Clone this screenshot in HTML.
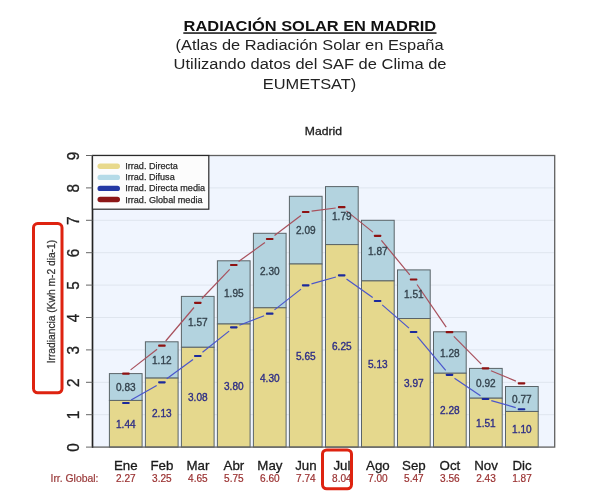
<!DOCTYPE html>
<html lang="es"><head><meta charset="utf-8"><title>Radiación solar en Madrid</title>
<style>html,body{margin:0;padding:0;background:#fff}svg{display:block}text{font-family:'Liberation Sans', Arial, sans-serif}</style>
</head><body>
<svg width="600" height="502" viewBox="0 0 600 502">
<rect width="600" height="502" fill="#fff"/>
<text x="183.6" y="30.8" font-size="14.67" fill="#111" font-weight="bold" textLength="252.6" lengthAdjust="spacingAndGlyphs">RADIACIÓN SOLAR EN MADRID</text>
<rect x="183.3" y="32.3" width="253.2" height="1.5" fill="#111"/>
<text x="175.5" y="50.2" font-size="14.67" fill="#222" textLength="268" lengthAdjust="spacingAndGlyphs">(Atlas de Radiación Solar en España</text>
<text x="173.6" y="69.2" font-size="14.67" fill="#222" textLength="272.9" lengthAdjust="spacingAndGlyphs">Utilizando datos del SAF de Clima de</text>
<text x="262.8" y="88.6" font-size="14.67" fill="#222" textLength="93.5" lengthAdjust="spacingAndGlyphs">EUMETSAT)</text>
<text x="304.8" y="134.8" font-size="11" fill="#222" textLength="37.2" lengthAdjust="spacingAndGlyphs" stroke="#222" stroke-width="0.3">Madrid</text>
<rect x="92.5" y="155.5" width="462.20000000000005" height="291.6" fill="#f0f5fe"/>
<line x1="92.5" x2="554.7" y1="414.7" y2="414.7" stroke="#dfe5ee" stroke-width="1"/>
<line x1="92.5" x2="554.7" y1="382.3" y2="382.3" stroke="#dfe5ee" stroke-width="1"/>
<line x1="92.5" x2="554.7" y1="349.9" y2="349.9" stroke="#dfe5ee" stroke-width="1"/>
<line x1="92.5" x2="554.7" y1="317.5" y2="317.5" stroke="#dfe5ee" stroke-width="1"/>
<line x1="92.5" x2="554.7" y1="285.1" y2="285.1" stroke="#dfe5ee" stroke-width="1"/>
<line x1="92.5" x2="554.7" y1="252.7" y2="252.7" stroke="#dfe5ee" stroke-width="1"/>
<line x1="92.5" x2="554.7" y1="220.3" y2="220.3" stroke="#dfe5ee" stroke-width="1"/>
<line x1="92.5" x2="554.7" y1="187.9" y2="187.9" stroke="#dfe5ee" stroke-width="1"/>
<rect x="109.4" y="373.6" width="32.7" height="26.9" fill="#b3d3df" stroke="#5a6468" stroke-width="1"/>
<rect x="109.4" y="400.4" width="32.7" height="46.7" fill="#e5d88d" stroke="#5a6468" stroke-width="1"/>
<rect x="145.4" y="341.8" width="32.7" height="36.3" fill="#b3d3df" stroke="#5a6468" stroke-width="1"/>
<rect x="145.4" y="378.1" width="32.7" height="69.0" fill="#e5d88d" stroke="#5a6468" stroke-width="1"/>
<rect x="181.4" y="296.4" width="32.7" height="50.9" fill="#b3d3df" stroke="#5a6468" stroke-width="1"/>
<rect x="181.4" y="347.3" width="32.7" height="99.8" fill="#e5d88d" stroke="#5a6468" stroke-width="1"/>
<rect x="217.4" y="260.8" width="32.7" height="63.2" fill="#b3d3df" stroke="#5a6468" stroke-width="1"/>
<rect x="217.4" y="324.0" width="32.7" height="123.1" fill="#e5d88d" stroke="#5a6468" stroke-width="1"/>
<rect x="253.4" y="233.3" width="32.7" height="74.5" fill="#b3d3df" stroke="#5a6468" stroke-width="1"/>
<rect x="253.4" y="307.8" width="32.7" height="139.3" fill="#e5d88d" stroke="#5a6468" stroke-width="1"/>
<rect x="289.4" y="196.3" width="32.7" height="67.7" fill="#b3d3df" stroke="#5a6468" stroke-width="1"/>
<rect x="289.4" y="264.0" width="32.7" height="183.1" fill="#e5d88d" stroke="#5a6468" stroke-width="1"/>
<rect x="325.5" y="186.6" width="32.7" height="58.0" fill="#b3d3df" stroke="#5a6468" stroke-width="1"/>
<rect x="325.5" y="244.6" width="32.7" height="202.5" fill="#e5d88d" stroke="#5a6468" stroke-width="1"/>
<rect x="361.5" y="220.3" width="32.7" height="60.6" fill="#b3d3df" stroke="#5a6468" stroke-width="1"/>
<rect x="361.5" y="280.9" width="32.7" height="166.2" fill="#e5d88d" stroke="#5a6468" stroke-width="1"/>
<rect x="397.5" y="269.9" width="32.7" height="48.6" fill="#b3d3df" stroke="#5a6468" stroke-width="1"/>
<rect x="397.5" y="318.5" width="32.7" height="128.6" fill="#e5d88d" stroke="#5a6468" stroke-width="1"/>
<rect x="433.5" y="331.8" width="32.7" height="41.5" fill="#b3d3df" stroke="#5a6468" stroke-width="1"/>
<rect x="433.5" y="373.2" width="32.7" height="73.9" fill="#e5d88d" stroke="#5a6468" stroke-width="1"/>
<rect x="469.5" y="368.4" width="32.7" height="29.8" fill="#b3d3df" stroke="#5a6468" stroke-width="1"/>
<rect x="469.5" y="398.2" width="32.7" height="48.9" fill="#e5d88d" stroke="#5a6468" stroke-width="1"/>
<rect x="505.5" y="386.5" width="32.7" height="24.9" fill="#b3d3df" stroke="#5a6468" stroke-width="1"/>
<rect x="505.5" y="411.5" width="32.7" height="35.6" fill="#e5d88d" stroke="#5a6468" stroke-width="1"/>
<line x1="130.6" y1="369.9" x2="157.1" y2="349.3" stroke="#a8505c" stroke-width="1.2"/>
<line x1="165.7" y1="341.0" x2="194.0" y2="307.5" stroke="#a8505c" stroke-width="1.2"/>
<line x1="201.9" y1="298.5" x2="229.7" y2="269.4" stroke="#a8505c" stroke-width="1.2"/>
<line x1="238.6" y1="261.5" x2="264.9" y2="242.5" stroke="#a8505c" stroke-width="1.2"/>
<line x1="274.5" y1="235.4" x2="300.9" y2="215.6" stroke="#a8505c" stroke-width="1.2"/>
<line x1="311.6" y1="211.2" x2="335.7" y2="208.0" stroke="#a8505c" stroke-width="1.2"/>
<line x1="346.4" y1="210.9" x2="372.9" y2="232.1" stroke="#a8505c" stroke-width="1.2"/>
<line x1="381.4" y1="240.4" x2="409.8" y2="274.9" stroke="#a8505c" stroke-width="1.2"/>
<line x1="417.0" y1="284.5" x2="446.2" y2="327.1" stroke="#a8505c" stroke-width="1.2"/>
<line x1="453.8" y1="336.4" x2="481.3" y2="364.1" stroke="#a8505c" stroke-width="1.2"/>
<line x1="491.0" y1="370.7" x2="515.9" y2="381.1" stroke="#a8505c" stroke-width="1.2"/>
<line x1="131.1" y1="400.0" x2="156.7" y2="385.4" stroke="#4a55cc" stroke-width="1.2"/>
<line x1="166.7" y1="378.8" x2="193.0" y2="359.6" stroke="#4a55cc" stroke-width="1.2"/>
<line x1="202.5" y1="352.3" x2="229.1" y2="331.1" stroke="#4a55cc" stroke-width="1.2"/>
<line x1="239.4" y1="325.3" x2="264.1" y2="315.7" stroke="#4a55cc" stroke-width="1.2"/>
<line x1="274.5" y1="309.9" x2="301.0" y2="289.1" stroke="#4a55cc" stroke-width="1.2"/>
<line x1="311.5" y1="283.8" x2="335.9" y2="277.0" stroke="#4a55cc" stroke-width="1.2"/>
<line x1="346.5" y1="278.9" x2="372.7" y2="297.5" stroke="#4a55cc" stroke-width="1.2"/>
<line x1="382.2" y1="304.9" x2="409.0" y2="328.1" stroke="#4a55cc" stroke-width="1.2"/>
<line x1="417.4" y1="336.6" x2="445.7" y2="370.3" stroke="#4a55cc" stroke-width="1.2"/>
<line x1="454.5" y1="378.2" x2="480.5" y2="395.7" stroke="#4a55cc" stroke-width="1.2"/>
<line x1="491.3" y1="400.7" x2="515.7" y2="407.6" stroke="#4a55cc" stroke-width="1.2"/>
<rect x="122.1" y="372.6" width="7.6" height="2.1" rx="0.8" fill="#8e1212"/>
<rect x="122.1" y="401.9" width="7.6" height="2.1" rx="0.8" fill="#1c2a9c"/>
<rect x="158.1" y="344.6" width="7.6" height="2.1" rx="0.8" fill="#8e1212"/>
<rect x="158.1" y="381.3" width="7.6" height="2.1" rx="0.8" fill="#1c2a9c"/>
<rect x="194.0" y="301.8" width="7.6" height="2.1" rx="0.8" fill="#8e1212"/>
<rect x="194.0" y="354.9" width="7.6" height="2.1" rx="0.8" fill="#1c2a9c"/>
<rect x="230.0" y="263.9" width="7.6" height="2.1" rx="0.8" fill="#8e1212"/>
<rect x="230.0" y="326.3" width="7.6" height="2.1" rx="0.8" fill="#1c2a9c"/>
<rect x="265.9" y="237.9" width="7.6" height="2.1" rx="0.8" fill="#8e1212"/>
<rect x="265.9" y="312.6" width="7.6" height="2.1" rx="0.8" fill="#1c2a9c"/>
<rect x="301.9" y="210.9" width="7.6" height="2.1" rx="0.8" fill="#8e1212"/>
<rect x="301.9" y="284.3" width="7.6" height="2.1" rx="0.8" fill="#1c2a9c"/>
<rect x="337.9" y="206.1" width="7.6" height="2.1" rx="0.8" fill="#8e1212"/>
<rect x="337.9" y="274.3" width="7.6" height="2.1" rx="0.8" fill="#1c2a9c"/>
<rect x="373.8" y="234.8" width="7.6" height="2.1" rx="0.8" fill="#8e1212"/>
<rect x="373.8" y="299.9" width="7.6" height="2.1" rx="0.8" fill="#1c2a9c"/>
<rect x="409.8" y="278.4" width="7.6" height="2.1" rx="0.8" fill="#8e1212"/>
<rect x="409.8" y="330.9" width="7.6" height="2.1" rx="0.8" fill="#1c2a9c"/>
<rect x="445.7" y="331.1" width="7.6" height="2.1" rx="0.8" fill="#8e1212"/>
<rect x="445.7" y="373.8" width="7.6" height="2.1" rx="0.8" fill="#1c2a9c"/>
<rect x="481.7" y="367.3" width="7.6" height="2.1" rx="0.8" fill="#8e1212"/>
<rect x="481.7" y="397.9" width="7.6" height="2.1" rx="0.8" fill="#1c2a9c"/>
<rect x="517.7" y="382.3" width="7.6" height="2.1" rx="0.8" fill="#8e1212"/>
<rect x="517.7" y="408.2" width="7.6" height="2.1" rx="0.8" fill="#1c2a9c"/>
<text x="125.8" y="391.1" font-size="10.5" fill="#34424c" text-anchor="middle" textLength="19.6" lengthAdjust="spacingAndGlyphs" stroke="#34424c" stroke-width="0.35">0.83</text>
<text x="125.8" y="427.9" font-size="10.5" fill="#2d2d86" text-anchor="middle" textLength="19.6" lengthAdjust="spacingAndGlyphs" stroke="#2d2d86" stroke-width="0.35">1.44</text>
<text x="161.8" y="364.1" font-size="10.5" fill="#34424c" text-anchor="middle" textLength="19.6" lengthAdjust="spacingAndGlyphs" stroke="#34424c" stroke-width="0.35">1.12</text>
<text x="161.8" y="416.7" font-size="10.5" fill="#2d2d86" text-anchor="middle" textLength="19.6" lengthAdjust="spacingAndGlyphs" stroke="#2d2d86" stroke-width="0.35">2.13</text>
<text x="197.8" y="326.0" font-size="10.5" fill="#34424c" text-anchor="middle" textLength="19.6" lengthAdjust="spacingAndGlyphs" stroke="#34424c" stroke-width="0.35">1.57</text>
<text x="197.8" y="401.4" font-size="10.5" fill="#2d2d86" text-anchor="middle" textLength="19.6" lengthAdjust="spacingAndGlyphs" stroke="#2d2d86" stroke-width="0.35">3.08</text>
<text x="233.8" y="296.5" font-size="10.5" fill="#34424c" text-anchor="middle" textLength="19.6" lengthAdjust="spacingAndGlyphs" stroke="#34424c" stroke-width="0.35">1.95</text>
<text x="233.8" y="389.7" font-size="10.5" fill="#2d2d86" text-anchor="middle" textLength="19.6" lengthAdjust="spacingAndGlyphs" stroke="#2d2d86" stroke-width="0.35">3.80</text>
<text x="269.8" y="274.7" font-size="10.5" fill="#34424c" text-anchor="middle" textLength="19.6" lengthAdjust="spacingAndGlyphs" stroke="#34424c" stroke-width="0.35">2.30</text>
<text x="269.8" y="381.6" font-size="10.5" fill="#2d2d86" text-anchor="middle" textLength="19.6" lengthAdjust="spacingAndGlyphs" stroke="#2d2d86" stroke-width="0.35">4.30</text>
<text x="305.8" y="234.3" font-size="10.5" fill="#34424c" text-anchor="middle" textLength="19.6" lengthAdjust="spacingAndGlyphs" stroke="#34424c" stroke-width="0.35">2.09</text>
<text x="305.8" y="359.7" font-size="10.5" fill="#2d2d86" text-anchor="middle" textLength="19.6" lengthAdjust="spacingAndGlyphs" stroke="#2d2d86" stroke-width="0.35">5.65</text>
<text x="341.8" y="219.8" font-size="10.5" fill="#34424c" text-anchor="middle" textLength="19.6" lengthAdjust="spacingAndGlyphs" stroke="#34424c" stroke-width="0.35">1.79</text>
<text x="341.8" y="350.0" font-size="10.5" fill="#2d2d86" text-anchor="middle" textLength="19.6" lengthAdjust="spacingAndGlyphs" stroke="#2d2d86" stroke-width="0.35">6.25</text>
<text x="377.8" y="254.7" font-size="10.5" fill="#34424c" text-anchor="middle" textLength="19.6" lengthAdjust="spacingAndGlyphs" stroke="#34424c" stroke-width="0.35">1.87</text>
<text x="377.8" y="368.1" font-size="10.5" fill="#2d2d86" text-anchor="middle" textLength="19.6" lengthAdjust="spacingAndGlyphs" stroke="#2d2d86" stroke-width="0.35">5.13</text>
<text x="413.8" y="298.3" font-size="10.5" fill="#34424c" text-anchor="middle" textLength="19.6" lengthAdjust="spacingAndGlyphs" stroke="#34424c" stroke-width="0.35">1.51</text>
<text x="413.8" y="386.9" font-size="10.5" fill="#2d2d86" text-anchor="middle" textLength="19.6" lengthAdjust="spacingAndGlyphs" stroke="#2d2d86" stroke-width="0.35">3.97</text>
<text x="449.8" y="356.6" font-size="10.5" fill="#34424c" text-anchor="middle" textLength="19.6" lengthAdjust="spacingAndGlyphs" stroke="#34424c" stroke-width="0.35">1.28</text>
<text x="449.8" y="414.3" font-size="10.5" fill="#2d2d86" text-anchor="middle" textLength="19.6" lengthAdjust="spacingAndGlyphs" stroke="#2d2d86" stroke-width="0.35">2.28</text>
<text x="485.9" y="387.4" font-size="10.5" fill="#34424c" text-anchor="middle" textLength="19.6" lengthAdjust="spacingAndGlyphs" stroke="#34424c" stroke-width="0.35">0.92</text>
<text x="485.9" y="426.8" font-size="10.5" fill="#2d2d86" text-anchor="middle" textLength="19.6" lengthAdjust="spacingAndGlyphs" stroke="#2d2d86" stroke-width="0.35">1.51</text>
<text x="521.9" y="403.1" font-size="10.5" fill="#34424c" text-anchor="middle" textLength="19.6" lengthAdjust="spacingAndGlyphs" stroke="#34424c" stroke-width="0.35">0.77</text>
<text x="521.9" y="433.4" font-size="10.5" fill="#2d2d86" text-anchor="middle" textLength="19.6" lengthAdjust="spacingAndGlyphs" stroke="#2d2d86" stroke-width="0.35">1.10</text>
<rect x="92.5" y="155.5" width="462.20000000000005" height="291.6" fill="none" stroke="#606060" stroke-width="1.3"/>
<line x1="92.5" x2="92.5" y1="154.9" y2="447.70000000000005" stroke="#222" stroke-width="1.5"/>
<rect x="92.5" y="155.5" width="116.3" height="53.7" fill="#fcfcfc" stroke="#2a2a2a" stroke-width="1.2"/>
<line x1="100.2" x2="117.3" y1="166.3" y2="166.3" stroke="#e8d98c" stroke-width="5.4" stroke-linecap="round"/>
<text x="125.2" y="169.3" font-size="9.1" fill="#2a2a2a" stroke="#2a2a2a" stroke-width="0.25">Irrad. Directa</text>
<line x1="100.2" x2="117.3" y1="177.4" y2="177.4" stroke="#b5dbe8" stroke-width="5.4" stroke-linecap="round"/>
<text x="125.2" y="180.4" font-size="9.1" fill="#2a2a2a" stroke="#2a2a2a" stroke-width="0.25">Irrad. Difusa</text>
<line x1="100.2" x2="117.3" y1="188.4" y2="188.4" stroke="#2438a4" stroke-width="5.4" stroke-linecap="round"/>
<text x="125.2" y="191.4" font-size="9.1" fill="#2a2a2a" stroke="#2a2a2a" stroke-width="0.25">Irrad. Directa media</text>
<line x1="100.2" x2="117.3" y1="199.5" y2="199.5" stroke="#8c1616" stroke-width="5.4" stroke-linecap="round"/>
<text x="125.2" y="202.5" font-size="9.1" fill="#2a2a2a" stroke="#2a2a2a" stroke-width="0.25">Irrad. Global media</text>
<line x1="86" x2="92.5" y1="447.1" y2="447.1" stroke="#666" stroke-width="1"/>
<text transform="translate(79,447.5) rotate(-90) scale(1,1.07)" text-anchor="middle" font-size="15.3" fill="#222" stroke="#222" stroke-width="0.3">0</text>
<line x1="86" x2="92.5" y1="414.7" y2="414.7" stroke="#666" stroke-width="1"/>
<text transform="translate(79,415.1) rotate(-90) scale(1,1.07)" text-anchor="middle" font-size="15.3" fill="#222" stroke="#222" stroke-width="0.3">1</text>
<line x1="86" x2="92.5" y1="382.3" y2="382.3" stroke="#666" stroke-width="1"/>
<text transform="translate(79,382.7) rotate(-90) scale(1,1.07)" text-anchor="middle" font-size="15.3" fill="#222" stroke="#222" stroke-width="0.3">2</text>
<line x1="86" x2="92.5" y1="349.9" y2="349.9" stroke="#666" stroke-width="1"/>
<text transform="translate(79,350.3) rotate(-90) scale(1,1.07)" text-anchor="middle" font-size="15.3" fill="#222" stroke="#222" stroke-width="0.3">3</text>
<line x1="86" x2="92.5" y1="317.5" y2="317.5" stroke="#666" stroke-width="1"/>
<text transform="translate(79,317.9) rotate(-90) scale(1,1.07)" text-anchor="middle" font-size="15.3" fill="#222" stroke="#222" stroke-width="0.3">4</text>
<line x1="86" x2="92.5" y1="285.1" y2="285.1" stroke="#666" stroke-width="1"/>
<text transform="translate(79,285.5) rotate(-90) scale(1,1.07)" text-anchor="middle" font-size="15.3" fill="#222" stroke="#222" stroke-width="0.3">5</text>
<line x1="86" x2="92.5" y1="252.7" y2="252.7" stroke="#666" stroke-width="1"/>
<text transform="translate(79,253.1) rotate(-90) scale(1,1.07)" text-anchor="middle" font-size="15.3" fill="#222" stroke="#222" stroke-width="0.3">6</text>
<line x1="86" x2="92.5" y1="220.3" y2="220.3" stroke="#666" stroke-width="1"/>
<text transform="translate(79,220.7) rotate(-90) scale(1,1.07)" text-anchor="middle" font-size="15.3" fill="#222" stroke="#222" stroke-width="0.3">7</text>
<line x1="86" x2="92.5" y1="187.9" y2="187.9" stroke="#666" stroke-width="1"/>
<text transform="translate(79,188.3) rotate(-90) scale(1,1.07)" text-anchor="middle" font-size="15.3" fill="#222" stroke="#222" stroke-width="0.3">8</text>
<line x1="86" x2="92.5" y1="155.5" y2="155.5" stroke="#666" stroke-width="1"/>
<text transform="translate(79,155.9) rotate(-90) scale(1,1.07)" text-anchor="middle" font-size="15.3" fill="#222" stroke="#222" stroke-width="0.3">9</text>
<text transform="translate(55,301.6) rotate(-90) scale(1,1.07)" text-anchor="middle" font-size="10" fill="#333" stroke="#333" stroke-width="0.25" textLength="123.4" lengthAdjust="spacingAndGlyphs">Irradiancia (Kwh m-2 dia-1)</text>
<rect x="33.5" y="223.5" width="28.5" height="169.3" rx="4.2" ry="4.2" fill="none" stroke="#de2310" stroke-width="3"/>
<text x="50.5" y="482" font-size="10.3" fill="#9a3a3a" textLength="48" lengthAdjust="spacingAndGlyphs" stroke="#9a3a3a" stroke-width="0.2">Irr. Global:</text>
<text x="125.8" y="470" font-size="13.3" fill="#1a1a1a" text-anchor="middle" stroke="#1a1a1a" stroke-width="0.3">Ene</text>
<text x="125.8" y="482" font-size="10.3" fill="#9a3030" text-anchor="middle" textLength="19.6" lengthAdjust="spacingAndGlyphs" stroke="#9a3030" stroke-width="0.2">2.27</text>
<text x="161.9" y="470" font-size="13.3" fill="#1a1a1a" text-anchor="middle" stroke="#1a1a1a" stroke-width="0.3">Feb</text>
<text x="161.9" y="482" font-size="10.3" fill="#9a3030" text-anchor="middle" textLength="19.6" lengthAdjust="spacingAndGlyphs" stroke="#9a3030" stroke-width="0.2">3.25</text>
<text x="197.9" y="470" font-size="13.3" fill="#1a1a1a" text-anchor="middle" stroke="#1a1a1a" stroke-width="0.3">Mar</text>
<text x="197.9" y="482" font-size="10.3" fill="#9a3030" text-anchor="middle" textLength="19.6" lengthAdjust="spacingAndGlyphs" stroke="#9a3030" stroke-width="0.2">4.65</text>
<text x="233.9" y="470" font-size="13.3" fill="#1a1a1a" text-anchor="middle" stroke="#1a1a1a" stroke-width="0.3">Abr</text>
<text x="233.9" y="482" font-size="10.3" fill="#9a3030" text-anchor="middle" textLength="19.6" lengthAdjust="spacingAndGlyphs" stroke="#9a3030" stroke-width="0.2">5.75</text>
<text x="269.9" y="470" font-size="13.3" fill="#1a1a1a" text-anchor="middle" stroke="#1a1a1a" stroke-width="0.3">May</text>
<text x="269.9" y="482" font-size="10.3" fill="#9a3030" text-anchor="middle" textLength="19.6" lengthAdjust="spacingAndGlyphs" stroke="#9a3030" stroke-width="0.2">6.60</text>
<text x="305.9" y="470" font-size="13.3" fill="#1a1a1a" text-anchor="middle" stroke="#1a1a1a" stroke-width="0.3">Jun</text>
<text x="305.9" y="482" font-size="10.3" fill="#9a3030" text-anchor="middle" textLength="19.6" lengthAdjust="spacingAndGlyphs" stroke="#9a3030" stroke-width="0.2">7.74</text>
<text x="341.9" y="470" font-size="13.3" fill="#1a1a1a" text-anchor="middle" stroke="#1a1a1a" stroke-width="0.3">Jul</text>
<text x="341.9" y="482" font-size="10.3" fill="#9a3030" text-anchor="middle" textLength="19.6" lengthAdjust="spacingAndGlyphs" stroke="#9a3030" stroke-width="0.2">8.04</text>
<text x="377.9" y="470" font-size="13.3" fill="#1a1a1a" text-anchor="middle" stroke="#1a1a1a" stroke-width="0.3">Ago</text>
<text x="377.9" y="482" font-size="10.3" fill="#9a3030" text-anchor="middle" textLength="19.6" lengthAdjust="spacingAndGlyphs" stroke="#9a3030" stroke-width="0.2">7.00</text>
<text x="413.9" y="470" font-size="13.3" fill="#1a1a1a" text-anchor="middle" stroke="#1a1a1a" stroke-width="0.3">Sep</text>
<text x="413.9" y="482" font-size="10.3" fill="#9a3030" text-anchor="middle" textLength="19.6" lengthAdjust="spacingAndGlyphs" stroke="#9a3030" stroke-width="0.2">5.47</text>
<text x="449.9" y="470" font-size="13.3" fill="#1a1a1a" text-anchor="middle" stroke="#1a1a1a" stroke-width="0.3">Oct</text>
<text x="449.9" y="482" font-size="10.3" fill="#9a3030" text-anchor="middle" textLength="19.6" lengthAdjust="spacingAndGlyphs" stroke="#9a3030" stroke-width="0.2">3.56</text>
<text x="486.0" y="470" font-size="13.3" fill="#1a1a1a" text-anchor="middle" stroke="#1a1a1a" stroke-width="0.3">Nov</text>
<text x="486.0" y="482" font-size="10.3" fill="#9a3030" text-anchor="middle" textLength="19.6" lengthAdjust="spacingAndGlyphs" stroke="#9a3030" stroke-width="0.2">2.43</text>
<text x="522.0" y="470" font-size="13.3" fill="#1a1a1a" text-anchor="middle" stroke="#1a1a1a" stroke-width="0.3">Dic</text>
<text x="522.0" y="482" font-size="10.3" fill="#9a3030" text-anchor="middle" textLength="19.6" lengthAdjust="spacingAndGlyphs" stroke="#9a3030" stroke-width="0.2">1.87</text>
<rect x="322.5" y="449.9" width="29" height="38.9" rx="4.2" ry="4.2" fill="none" stroke="#de2310" stroke-width="3"/>
</svg>
</body></html>
